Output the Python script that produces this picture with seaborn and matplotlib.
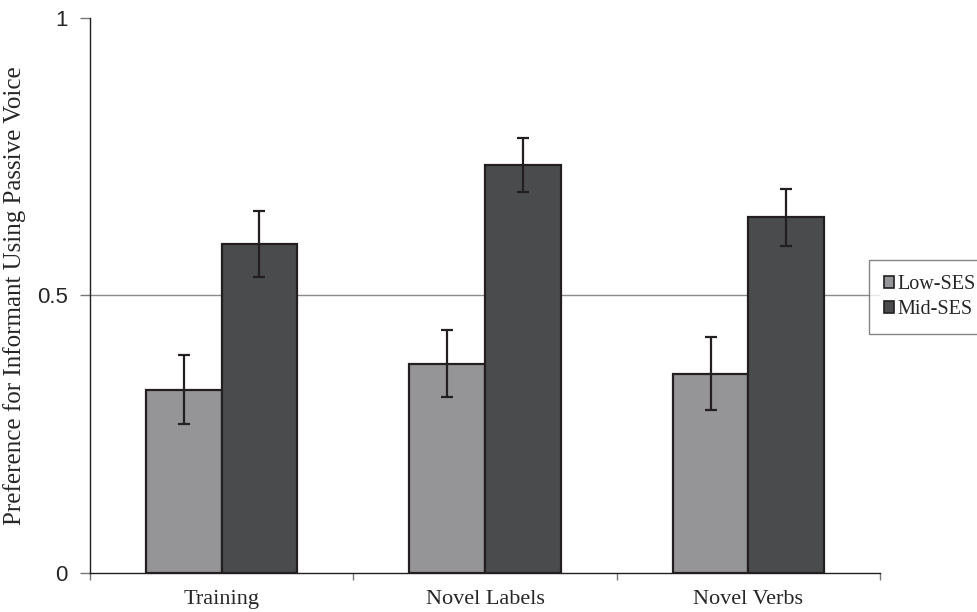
import pandas as pd
import matplotlib
matplotlib.use("Agg")
import matplotlib.pyplot as plt
import seaborn as sns

conditions = ["Training", "Novel Labels", "Novel Verbs"]
groups = ["Low-SES", "Mid-SES"]
low_means = [0.330, 0.377, 0.359]
mid_means = [0.593, 0.735, 0.641]
low_err = [0.062, 0.060, 0.066]
mid_err = [0.060, 0.048, 0.051]

df = pd.DataFrame({
    "condition": conditions * 2,
    "group": [groups[0]] * 3 + [groups[1]] * 3,
    "pref": low_means + mid_means,
})

sns.set_style("white")
fig = plt.figure(figsize=(9.78, 6.12), dpi=100)
ax = fig.add_axes([0.092, 0.0637, 0.8078, 0.907])

ax.axhline(0.5, color="#8a8a8a", lw=1, zorder=0)
sns.barplot(data=df, x="condition", y="pref", hue="group", order=conditions,
            hue_order=groups, palette=["#949598", "#4a4b4d"], width=0.574,
            edgecolor="#231f20", linewidth=1.6, errorbar=None, ax=ax, zorder=2)

# error bars on top of each bar
for cont, errs in zip(ax.containers, [low_err, mid_err]):
    for bar, e in zip(cont, errs):
        xc = bar.get_x() + bar.get_width() / 2
        ax.errorbar(xc, bar.get_height(), yerr=e, fmt="none", ecolor="#231f20",
                    elinewidth=1.6, capsize=4.5, capthick=1.6, zorder=3)

ax.set_xlim(-0.5, 2.5)
ax.set_ylim(0, 1)
ax.set_yticks([0, 0.5, 1])
ax.set_yticklabels(["0", "0.5", "1"], family="Liberation Sans", fontsize=16)
ax.set_xticks([-0.5, 0.5, 1.5, 2.5])
ax.set_xticklabels([])
ax.set_xticks([0, 1, 2], minor=True)
ax.set_xticklabels(conditions, minor=True, family="Liberation Serif", fontsize=16)
ax.tick_params(axis="x", which="major", bottom=True, direction="out", length=5, width=1, color="#777777")
ax.tick_params(axis="x", which="minor", bottom=True, length=0, pad=12)
ax.tick_params(axis="y", left=True, direction="out", length=7, width=1, color="#777777", pad=9)
ax.set_xlabel("")
ax.set_ylabel("Preference for Informant Using Passive Voice", family="Liberation Serif",
              fontsize=18, labelpad=8)

for side in ["top", "right"]:
    ax.spines[side].set_visible(False)
for side in ["left", "bottom"]:
    ax.spines[side].set_color("#231f20")
    ax.spines[side].set_linewidth(1)

ax.legend_.remove()
handles = [plt.Rectangle((0, 0), 1, 1, facecolor=c, edgecolor="#231f20", lw=1.2)
           for c in ["#949598", "#4a4b4d"]]
leg = fig.legend(handles, groups, loc="upper left", bbox_to_anchor=(869 / 978, 1 - 260 / 612),
                 prop={"family": "Liberation Serif", "size": 14.5}, frameon=True, fancybox=False,
                 handlelength=0.5, handleheight=0.5, handletextpad=0.15, borderpad=0.75,
                 labelspacing=0.3, borderaxespad=0)
leg.get_frame().set_edgecolor("#666666")
leg.get_frame().set_linewidth(1)

fig.savefig("out.png", dpi=100)
